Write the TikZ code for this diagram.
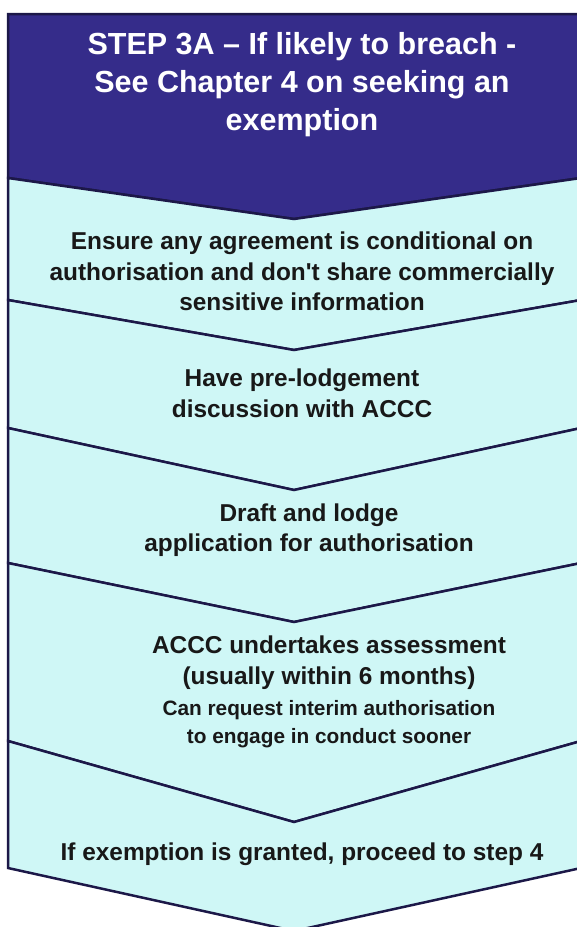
\documentclass[tikz,border=0pt]{standalone}
\usepackage{fontspec}
\setmainfont{Liberation Sans}
\definecolor{headfill}{RGB}{53,44,138}
\definecolor{stepfill}{RGB}{207,247,246}
\definecolor{navyline}{RGB}{28,24,72}
\definecolor{inkblack}{RGB}{24,24,24}
\begin{document}
\begin{tikzpicture}[x=1pt,y=-1pt,
  chevron/.style={draw=navyline, line width=2.5pt, line join=miter},
  headtxt/.style={text=white, font=\fontsize{30.5}{36}\selectfont\bfseries, anchor=base, inner sep=0pt},
  bodytxt/.style={text=inkblack, font=\fontsize{24.4}{30}\selectfont\bfseries, anchor=base, inner sep=0pt},
  smalltxt/.style={text=inkblack, font=\fontsize{20.8}{26}\selectfont\bfseries, anchor=base, inner sep=0pt}]
\useasboundingbox (0,0) rectangle (577,927);
\fill[white] (0,0) rectangle (577,927);
\clip (0,0) rectangle (577,927);

% chevron band: left x, apex x, right x
\def\xl{8}\def\xc{294}\def\xr{581}

% header band
\path[chevron, fill=headfill]
  (\xl,14) -- (\xr,14) -- (\xr,178) -- (\xc,219) -- (\xl,178) -- cycle;

% step bands (top side y, top apex y, bottom side y, bottom apex y)
\foreach \ts/\ta/\bs/\ba in {178/219/300/350, 300/350/428/490, 428/490/563/622,
                             563/622/741/822, 741/822/868/931}{
  \path[chevron, fill=stepfill]
    (\xl,\ts) -- (\xc,\ta) -- (\xr,\ts) -- (\xr,\bs) -- (\xc,\ba) -- (\xl,\bs) -- cycle;
}

% header text
\node[headtxt] (h1) at (302,54)  {STEP 3A – If likely to breach -};
\node[headtxt] (h2) at (302,92)  {See Chapter 4 on seeking an};
\node[headtxt] (h3) at (302,130) {exemption};

% step texts
\node[bodytxt] (s1a) at (302,249) {Ensure any agreement is conditional on};
\node[bodytxt] (s1b) at (302,280) {authorisation and don\textquotesingle t share commercially};
\node[bodytxt] (s1c) at (302,310) {sensitive information};

\node[bodytxt] (s2a) at (302,386) {Have pre-lodgement};
\node[bodytxt] (s2b) at (302,417) {discussion with ACCC};

\node[bodytxt] (s3a) at (309,521) {Draft and lodge};
\node[bodytxt] (s3b) at (309,551) {application for authorisation};

\node[bodytxt]  (s4a) at (329,653) {ACCC undertakes assessment};
\node[bodytxt]  (s4b) at (329,684) {(usually within 6 months)};
\node[smalltxt] (s4c) at (329,715) {Can request interim authorisation};
\node[smalltxt] (s4d) at (329,743) {to engage in conduct sooner};

\node[bodytxt] (s5a) at (302,860) {If exemption is granted, proceed to step 4};
\end{tikzpicture}
\end{document}
